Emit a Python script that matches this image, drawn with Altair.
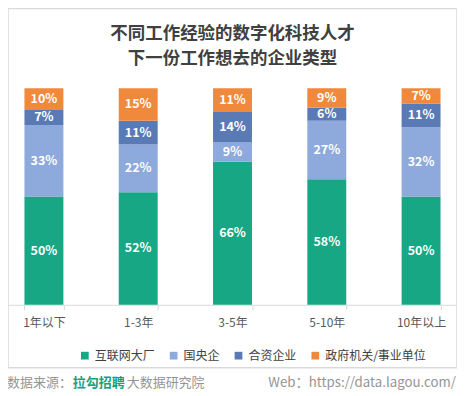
import altair as alt
import pandas as pd

categories = ["1年以下", "1-3年", "3-5年", "5-10年", "10年以上"]
series = ["互联网大厂", "国央企", "合资企业", "政府机关/事业单位"]
colors = ["#17A784", "#8EA9DB", "#5A7AB6", "#F0893B"]
internet = [50, 52, 66, 58, 50]
soe = [33, 22, 9, 27, 32]
jv = [7, 11, 14, 6, 11]
gov = [10, 15, 11, 9, 7]

rows = []
for i, c in enumerate(categories):
    for j, (s, vals) in enumerate(zip(series, [internet, soe, jv, gov])):
        rows.append({"cat": c, "series": s, "value": vals[i], "ord": j})
df = pd.DataFrame(rows)

FONT = "Noto Sans CJK SC"

base = alt.Chart(df).transform_stack(
    stack="value", groupby=["cat"], sort=[alt.SortField("ord", order="ascending")], as_=["y0", "y1"]
).transform_calculate(mid="(datum.y0 + datum.y1) / 2", label="datum.value + '%'")

xenc = alt.X("cat:N", sort=categories, title=None,
             scale=alt.Scale(range=[0, 450], paddingInner=0.587, paddingOuter=0.1745),
             axis=alt.Axis(orient="bottom", offset=-63, labelAngle=0, tickBand="extent",
                           domainColor="#d9d9d9", tickColor="#d9d9d9", tickSize=5,
                           labelFont=FONT, labelFontSize=12, labelColor="#595959",
                           labelPadding=8))
yscale = alt.Scale(domain=[0, 100], range=[297, 80])

bars = base.mark_bar().encode(
    x=xenc,
    y=alt.Y("y0:Q", scale=yscale, axis=None),
    y2="y1:Q",
    color=alt.Color("series:N", sort=series,
                    scale=alt.Scale(domain=series, range=colors),
                    legend=alt.Legend(orient="none", legendX=71, legendY=342, direction="horizontal",
                                      title=None, symbolType="square", symbolSize=60,
                                      symbolStrokeWidth=0, labelFont=FONT, labelFontSize=12,
                                      labelColor="#404040", columnPadding=12, labelOffset=4,
                                      padding=0)),
)

labels = base.mark_text(color="white", fontWeight="bold", fontSize=12.5, font=FONT).encode(
    x=alt.X("cat:N", sort=categories),
    y=alt.Y("mid:Q", scale=yscale),
    text="label:N",
)

foot_left = pd.DataFrame({"t": ["数据来源："]})
foot_brand = pd.DataFrame({"t": ["拉勾招聘"]})
foot_rest = pd.DataFrame({"t": ["大数据研究院"]})
foot_right = pd.DataFrame({"t": ["Web：https://data.lagou.com/"]})

def ftext(d, x, align="left", color="#959595", weight="normal", size=13):
    return alt.Chart(d).mark_text(align=align, baseline="middle", font=FONT, fontSize=size,
                                  color=color, fontWeight=weight).encode(
        x=alt.value(x), y=alt.value(375), text="t:N")

footer = (ftext(foot_left, -1) + ftext(foot_brand, 65, color="#17A07C", weight="bold")
          + ftext(foot_rest, 119) + ftext(foot_right, 449, align="right", size=13.3))

chart = alt.layer(bars, labels, footer).properties(
    width=450, height=360,
    title=alt.TitleParams(text=["不同工作经验的数字化科技人才", "下一份工作想去的企业类型"],
                          font=FONT, fontSize=17.5, fontWeight="bold", color="#404040",
                          lineHeight=25, anchor="middle", offset=-59),
    autosize=alt.AutoSizeParams(type="none"),
    padding={"left": 0, "top": 0, "right": 0, "bottom": 30},
).configure_view(stroke="#d9d9d9", strokeWidth=1.5)

chart.save("out.html", embed_options={"renderer": "svg", "actions": False})
